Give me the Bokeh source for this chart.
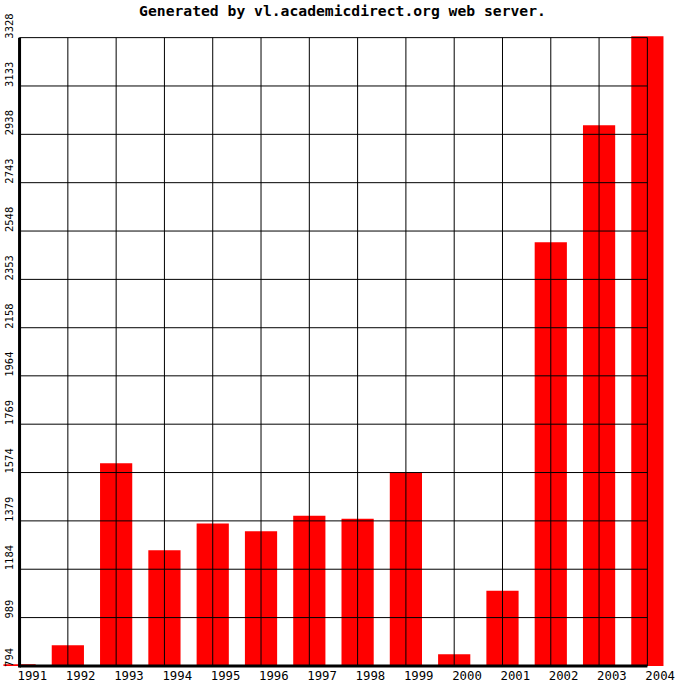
import math
from bokeh.plotting import figure
from bokeh.embed import file_html
from bokeh.resources import INLINE
from bokeh.core.properties import value

# ---- data ----
years = [1991, 1992, 1993, 1994, 1995, 1996, 1997, 1998, 1999, 2000, 2001, 2002, 2003, 2004]
year_labels = [str(y) for y in years]
counts = [801, 877, 1611, 1261, 1368, 1337, 1400, 1388, 1575, 841, 1097, 2503, 2975, 3334]
ytick_labels = ["794", "989", "1184", "1379", "1574", "1769", "1964", "2158",
                "2353", "2548", "2743", "2938", "3133", "3328"]
ytick_vals = [int(s) for s in ytick_labels]
title_text = "Generated by vl.academicdirect.org web server."

# ---- layout (canvas pixels) ----
W, H = 684, 684
S = W / 700.0
PL, PR, PT, PB = 19.5 * S, 662 * S, 38 * S, 681 * S

x0d, x1d = years[0], years[-1]
y0d, y1d = ytick_vals[0], ytick_vals[-1]
xpp = (x1d - x0d) / (PR - PL)      # data units per pixel
ypp = (y1d - y0d) / (PB - PT)
x_start = x0d - PL * xpp
x_end = x1d + (W - PR) * xpp
y_end = y1d + PT * ypp
y_start = y0d - (H - PB) * ypp

p = figure(width=W, height=H, x_range=(x_start, x_end), y_range=(y_start, y_end),
           output_backend="svg", toolbar_location=None, tools="",
           x_axis_location=None, y_axis_location=None, min_border=0)
p.outline_line_color = None
p.background_fill_color = "white"
p.border_fill_color = "white"
p.grid.visible = False

# bars
p.vbar(x=years, top=counts, bottom=y0d, width=0.667, fill_color="#ff0000", line_color=None)

# grid (drawn over bars)
n = len(years)
m = len(ytick_vals)
p.segment(x0=years, x1=years, y0=[y0d] * n, y1=[y1d] * n, line_color="black", line_width=1)
p.segment(x0=[x0d] * m, x1=[x1d] * m, y0=ytick_vals, y1=ytick_vals, line_color="black", line_width=1)

# axis lines
p.segment(x0=[x0d], x1=[x0d], y0=[y0d - 1.5 * ypp], y1=[y1d], line_color="black", line_width=3)
p.segment(x0=[x0d], x1=[x1d], y0=[y0d], y1=[y0d], line_color="black", line_width=3)

# x labels
p.text(x=years, y=[y0d] * n, text=year_labels, text_font=value("DejaVu Sans Mono"),
       text_font_size="12.3px", text_align="left", text_baseline="top",
       x_offset=-2, y_offset=5.5, text_color="black")

# y labels (rotated)
p.text(x=[x0d] * m, y=ytick_vals, text=ytick_labels, text_font=value("DejaVu Sans Mono"),
       text_font_size="10.5px", text_align="left", text_baseline="middle",
       angle=math.pi / 2, x_offset=-11, y_offset=1, text_color="black")

# title
p.text(x=[(x_start + x_end) / 2], y=[y_end], text=[title_text],
       text_font=value("DejaVu Sans Mono"), text_font_size="14.7px", text_font_style="bold",
       text_align="center", text_baseline="top", y_offset=1, text_color="black")

open("out.html", "w").write(file_html(p, INLINE))
